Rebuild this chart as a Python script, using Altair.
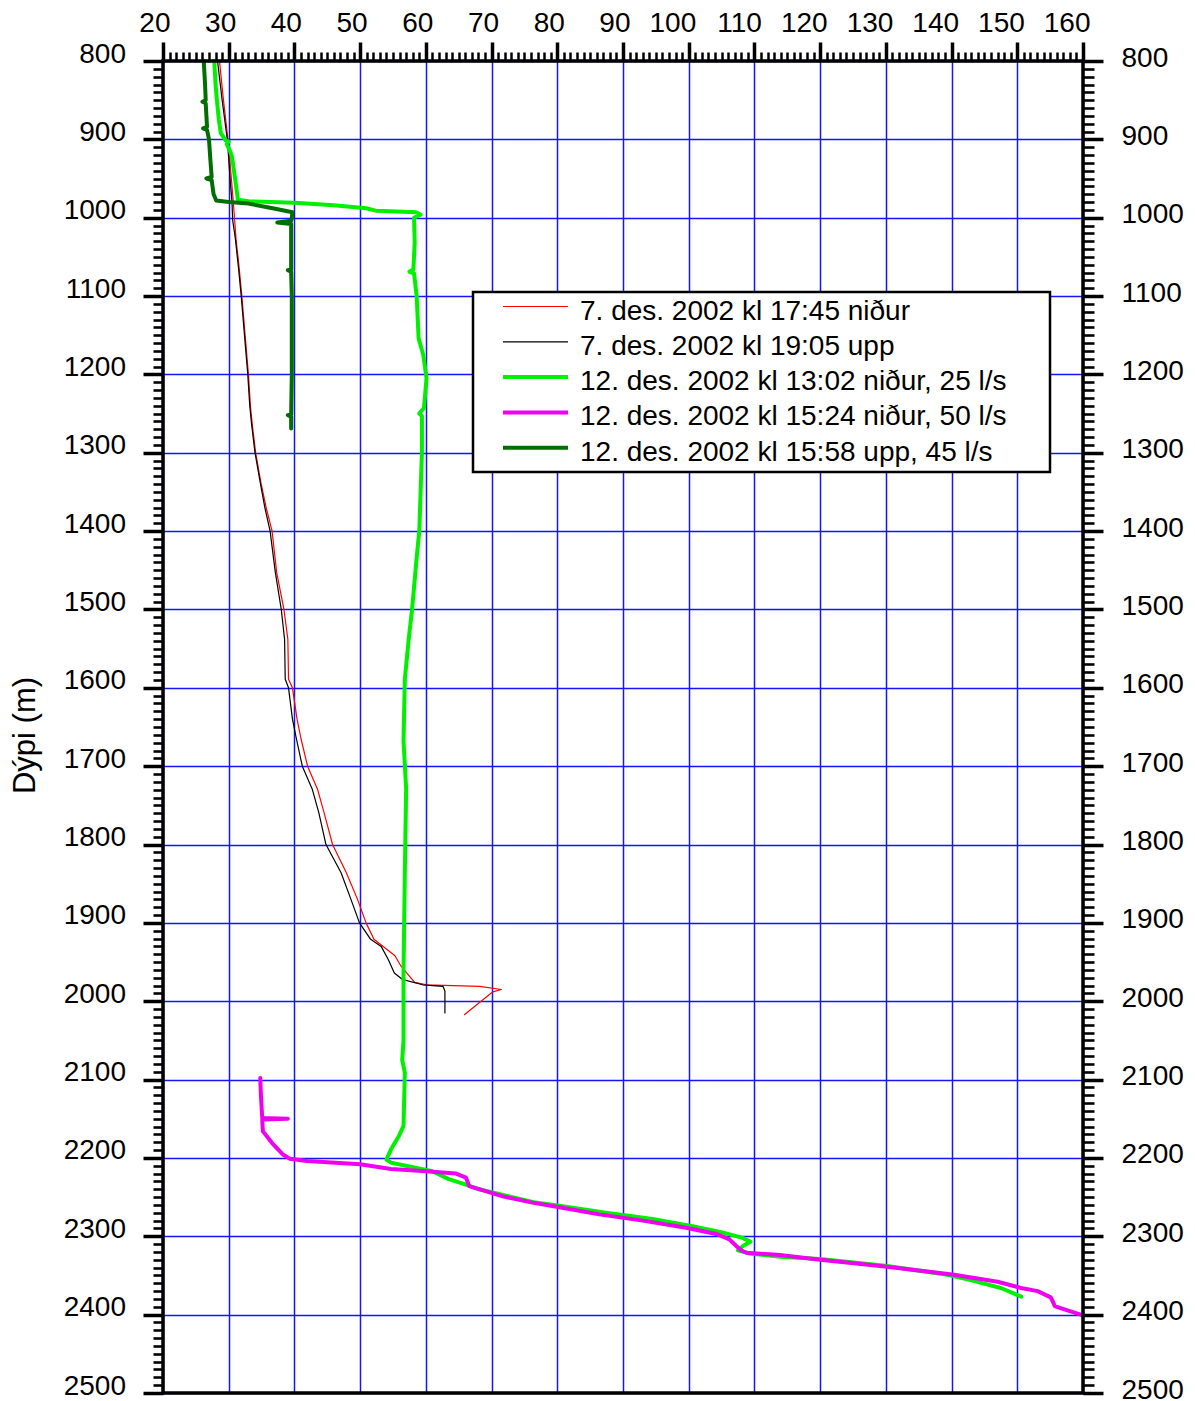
import altair as alt
import pandas as pd

# Temperature (°C) against depth (m) for each logging run
red_temp = [28.6, 29.2, 29.9, 30.4, 30.7, 30.9, 31.1, 31.6, 32.0, 32.5, 33.0, 33.3, 33.6, 34.1,
            34.9, 35.7, 36.6, 37.3, 38.4, 39.0, 39.1, 39.7, 40.4, 41.0, 42.0, 43.5, 44.5, 45.8,
            47.9, 49.6, 50.9, 52.1, 53.8, 55.3, 56.2, 57.4, 58.3, 60.1, 68.2, 71.5, 70.2, 65.9]
red_depth = [800, 850, 901, 950, 980, 1003, 1026, 1065, 1100, 1150, 1200, 1240, 1265, 1300,
             1338, 1370, 1400, 1453, 1500, 1538, 1589, 1600, 1640, 1665, 1700, 1729, 1759, 1800,
             1836, 1870, 1900, 1921, 1932, 1942, 1955, 1967, 1976, 1979, 1981, 1985, 1988, 2017]

black_temp = [28.3, 29.0, 29.8, 30.2, 30.5, 30.6, 31.0, 31.5, 31.9, 32.4, 32.9, 33.2, 33.5, 34.0,
              34.8, 35.5, 36.3, 37.1, 38.0, 38.5, 38.6, 39.1, 39.7, 40.3, 41.2, 42.7, 43.7, 44.8,
              47.1, 48.6, 49.9, 51.6, 53.2, 54.3, 55.2, 56.4, 59.5, 62.6, 62.9, 62.9]
black_depth = [800, 850, 901, 950, 980, 1003, 1026, 1065, 1100, 1150, 1200, 1240, 1265, 1300,
               1338, 1370, 1400, 1453, 1500, 1538, 1589, 1600, 1640, 1665, 1700, 1729, 1759, 1800,
               1836, 1870, 1900, 1921, 1930, 1947, 1964, 1972, 1979, 1981, 1987, 2015]

green_temp = [27.8, 28.0, 28.2, 28.5, 28.8, 29.5, 30.0, 29.7, 30.2, 30.5, 30.8, 31.0, 31.4, 33.0,
              40.0, 46.0, 50.9, 52.4, 58.5, 59.2, 58.2, 58.3, 58.1, 57.5, 58.2, 58.6, 58.9, 59.2,
              59.6, 60.1, 59.9, 59.7, 59.0, 59.4, 59.4, 59.2, 59.0, 58.6, 57.9, 57.4, 56.8, 56.6,
              57.0, 56.8, 56.6, 56.6, 56.4, 56.8, 56.6, 55.9, 54.7, 54.0, 54.7, 57.5, 61.0, 63.5,
              66.1, 68.1, 72.7, 76.7, 80.3, 87.4, 94.5, 100.6, 105.1, 108.2, 109.4, 108.3, 107.5,
              109.3, 113.9, 120.0, 130.2, 139.4, 142.9, 147.5, 150.6]
green_depth = [800, 830, 850, 875, 892, 901, 903, 906, 915, 922, 940, 952, 977, 979,
               981, 984, 988, 991, 993, 996, 1000, 1032, 1066, 1069, 1071, 1100, 1154, 1163,
               1175, 1205, 1225, 1243, 1250, 1253, 1300, 1350, 1400, 1434, 1500, 1537, 1589, 1668,
               1729, 1836, 1964, 2050, 2075, 2091, 2159, 2172, 2189, 2202, 2206, 2211, 2217, 2227,
               2234, 2240, 2249, 2257, 2261, 2270, 2278, 2287, 2295, 2302, 2307, 2312, 2318,
               2322, 2326, 2329, 2338, 2349, 2356, 2366, 2377]

magenta_temp = [34.8, 34.9, 35.1, 39.0, 35.1, 35.2, 36.6, 38.3, 39.3, 41.9, 50.0, 54.7, 60.0,
                64.6, 66.1, 66.6, 68.6, 71.7, 76.2, 80.3, 86.4, 93.0, 99.6, 104.2, 106.2, 107.2,
                108.0, 108.8, 113.9, 120.0, 130.2, 140.4, 147.0, 150.6, 153.1, 155.1, 155.5,
                155.7, 156.7, 160.0]
magenta_depth = [2098, 2120, 2149, 2150, 2151, 2166, 2181, 2196, 2201, 2204, 2208, 2214, 2217,
                 2220, 2225, 2236, 2241, 2249, 2257, 2263, 2272, 2280, 2289, 2297, 2304, 2312,
                 2318, 2321, 2324, 2330, 2339, 2349, 2358, 2366, 2370, 2378, 2385,
                 2389, 2392, 2401]

dkgreen_temp = [26.2, 26.4, 26.5, 26.0, 26.5, 26.7, 26.1, 26.7, 27.0, 27.2, 27.4, 26.6, 27.4,
                27.7, 28.1, 30.0, 33.0, 36.7, 39.7, 39.6, 39.5, 37.4, 39.5, 39.5, 39.0, 39.5,
                39.6, 39.6, 39.5, 39.0, 39.5, 39.5]
dkgreen_depth = [800, 830, 850, 852, 854, 884, 886, 888, 900, 925, 948, 950, 952,
                 970, 978, 980, 982, 988, 993, 1000, 1004, 1006, 1008, 1066, 1067, 1069,
                 1100, 1200, 1251, 1252, 1254, 1269]

series_names = [
    "7. des. 2002 kl 17:45 niður",
    "7. des. 2002 kl 19:05 upp",
    "12. des. 2002 kl 13:02 niður, 25 l/s",
    "12. des. 2002 kl 15:24 niður, 50 l/s",
    "12. des. 2002 kl 15:58 upp, 45 l/s",
]
series_colors = ["#ff0000", "#000000", "#00f000", "#f000f0", "#006e00"]
series_widths = [1.2, 1.2, 4, 4, 4]

x_major = list(range(20, 161, 10))
x_minor = list(range(20, 161, 1))
y_major = list(range(800, 2501, 100))
y_minor = list(range(800, 2501, 10))

FONT = "Liberation Sans"
GRID = "#1414ff"
W, H = 920, 1332


def run_frame(temps, depths, name):
    return pd.DataFrame({"temp": temps, "depth": depths,
                         "step": list(range(len(temps))), "series": name})


x_scale = alt.Scale(domain=[20, 160], nice=False, zero=False)
y_scale = alt.Scale(domain=[800, 2500], reverse=True, nice=False, zero=False)

common = dict(domain=False, tickColor="black", labelColor="black", labelFont=FONT,
              labelFontSize=28, labelFlush=False, labelOverlap=False, labelBound=False,
              format="d", title=None)

top_major = alt.Axis(orient="top", values=x_major, grid=True, gridColor=GRID, gridWidth=1.5,
                     tickSize=19, tickWidth=3.5, labelAlign="right", labelOffset=7,
                     labelBaseline="alphabetic", labelPadding=11, **common)
top_minor = alt.Axis(orient="top", values=x_minor, grid=False, labels=False, ticks=True,
                     tickSize=9, tickWidth=2.5, domain=False, tickColor="black", title=None)
left_major = alt.Axis(orient="left", values=y_major, grid=True, gridColor=GRID, gridWidth=1.5,
                      tickSize=20, tickWidth=3.5, labelPadding=17.5, labelOffset=-7,
                      **{k: v for k, v in common.items() if k != "title"},
                      title="Dýpi (m)", titleFont=FONT, titleFontSize=31,
                      titleFontWeight="normal", titleColor="black", titleAngle=270,
                      titleX=-129, titleY=674, titleAlign="center",
                      titleBaseline="alphabetic")
left_minor = alt.Axis(orient="left", values=y_minor, grid=False, labels=False, ticks=True,
                      tickSize=10, tickWidth=2.6, domain=False, tickColor="black", title=None)
right_major = alt.Axis(orient="right", values=y_major, grid=False, tickSize=20, tickWidth=3.5,
                       labelPadding=18, labelOffset=-3, labelAlign="left", **common)
right_minor = alt.Axis(orient="right", values=y_minor, grid=False, labels=False, ticks=True,
                       tickSize=11, tickWidth=2.6, domain=False, tickColor="black", title=None)

runs = [
    (red_temp, red_depth, top_major, left_major),
    (black_temp, black_depth, top_minor, left_minor),
    (green_temp, green_depth, None, right_major),
    (dkgreen_temp, dkgreen_depth, None, right_minor),
    (magenta_temp, magenta_depth, None, None),
]
order_idx = [0, 1, 2, 4, 3]

line_layers = []
for (temps, depths, xaxis, yaxis), idx in zip(runs, order_idx):
    df = run_frame(temps, depths, series_names[idx])
    line_layers.append(
        alt.Chart(df).mark_line(color=series_colors[idx], strokeWidth=series_widths[idx],
                                strokeCap="round", strokeJoin="round").encode(
            x=alt.X("temp:Q", scale=x_scale, axis=xaxis),
            y=alt.Y("depth:Q", scale=y_scale, axis=yaxis),
            order=alt.Order("step:Q"),
        )
    )

# Legend box with a short line sample and label per run
box_df = pd.DataFrame({"series": ["legend"]})
legend_layers = [
    alt.Chart(box_df).mark_rect(fill="white", stroke="black", strokeWidth=2.5).encode(
        x=alt.value(310), x2=alt.value(887), y=alt.value(231), y2=alt.value(411))
]
for i, name in enumerate(series_names):
    row_y = 245.5 + 35.3 * i
    one = pd.DataFrame({"series": [name]})
    legend_layers.append(
        alt.Chart(one).mark_rule(color=series_colors[i], strokeWidth=series_widths[i]).encode(
            x=alt.value(340), x2=alt.value(405), y=alt.value(row_y)))
    legend_layers.append(
        alt.Chart(one).mark_text(align="left", baseline="alphabetic", font=FONT, fontSize=28,
                                 color="black").encode(
            x=alt.value(417), y=alt.value(row_y + 13), text="series:N"))

frame_df = pd.DataFrame({"series": ["frame"]})
frame = alt.Chart(frame_df).mark_rect(fillOpacity=0, stroke="black", strokeWidth=3.5).encode(
    x=alt.value(0), x2=alt.value(W), y=alt.value(0), y2=alt.value(H))

chart = alt.layer(*line_layers, frame, *legend_layers).resolve_axis(
    x="independent", y="independent"
).properties(
    width=W, height=H,
    autosize=alt.AutoSizeParams(type="none"),
    padding={"left": 163, "top": 61, "right": 112, "bottom": 8},
).configure_view(stroke=None).configure(background="white")

chart.save("out.html", embed_options={"renderer": "svg", "actions": False})
